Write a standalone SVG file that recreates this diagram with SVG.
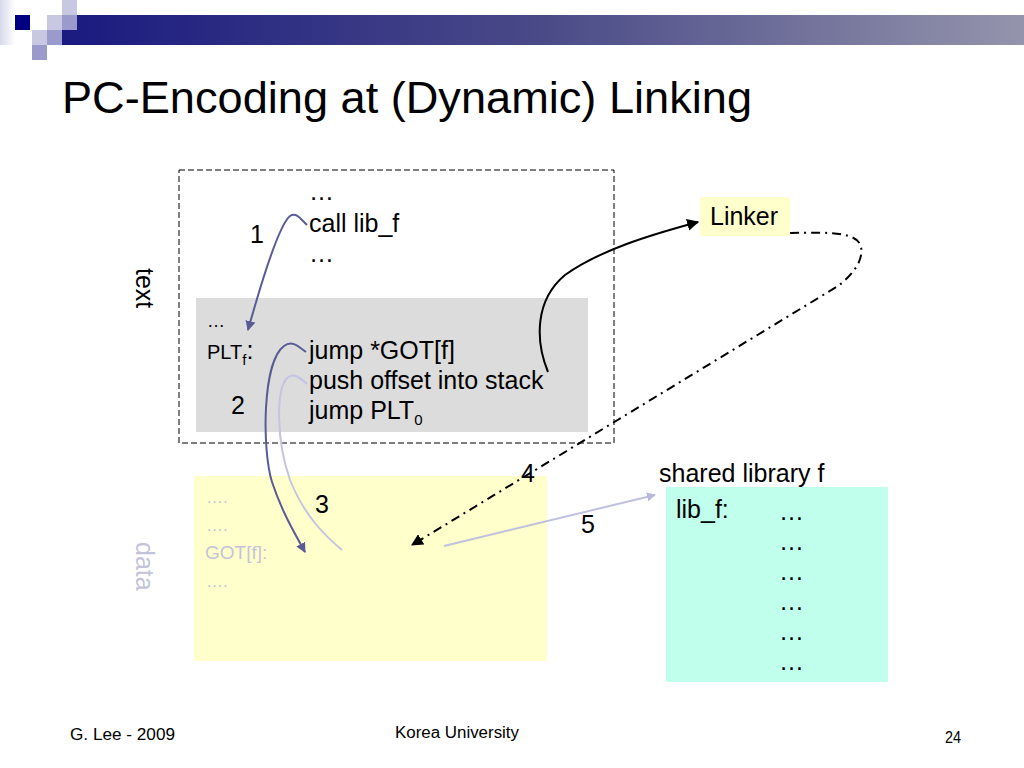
<svg xmlns="http://www.w3.org/2000/svg" width="1024" height="768" viewBox="0 0 1024 768">
<defs>
<linearGradient id="bar" x1="0" y1="0" x2="1" y2="0">
<stop offset="0" stop-color="#1a1a80"/>
<stop offset="0.5" stop-color="#4a4a88"/>
<stop offset="1" stop-color="#9494ac"/>
</linearGradient>
<linearGradient id="fade" x1="0" y1="0" x2="1" y2="0">
<stop offset="0" stop-color="#d8d8ec"/>
<stop offset="1" stop-color="#ffffff"/>
</linearGradient>
<marker id="ahDark" viewBox="0 0 10 10" refX="9" refY="5" markerWidth="10" markerHeight="10" markerUnits="userSpaceOnUse" orient="auto">
<path d="M0,0 L10,5 L0,10 z" fill="#5a5a96"/>
</marker>
<marker id="ahBlack" viewBox="0 0 10 10" refX="9" refY="5" markerWidth="12" markerHeight="12" markerUnits="userSpaceOnUse" orient="auto">
<path d="M0,0 L10,5 L0,10 z" fill="#000"/>
</marker>
<marker id="ahLight" viewBox="0 0 10 10" refX="9" refY="5" markerWidth="9" markerHeight="9" markerUnits="userSpaceOnUse" orient="auto">
<path d="M0,0 L10,5 L0,10 z" fill="#b8b8dc"/>
</marker>
</defs>
<style>
text{font-family:"Liberation Sans",Arial,sans-serif;fill:#000}
.t{font-size:25px}
.d{fill:#c4c4d8}
.c{fill:none;stroke-width:2}
</style>
<rect width="1024" height="768" fill="#fff"/>
<g id="header">
<rect x="0" y="0" width="15" height="45" fill="url(#fade)"/>
<rect x="62" y="15" width="962" height="30" fill="url(#bar)"/>
<rect x="15" y="15" width="15" height="15" fill="#000080"/>
<rect x="47" y="15" width="15" height="15" fill="#c8c8e2"/>
<rect x="62" y="0" width="15" height="15" fill="#c8c8e2"/>
<rect x="62" y="15" width="15" height="15" fill="#9a9acc"/>
<rect x="32" y="30" width="15" height="15" fill="#c8c8e2"/>
<rect x="47" y="30" width="15" height="15" fill="#9a9acc"/>
<rect x="32" y="45" width="15" height="15" fill="#9a9acc"/>
</g>
<text x="62" y="113" font-size="45" textLength="690" lengthAdjust="spacingAndGlyphs">PC-Encoding at (Dynamic) Linking</text>
<g id="text-segment">
<rect x="179" y="170" width="435" height="273" fill="none" stroke="#000" stroke-width="1" stroke-dasharray="6,3"/>
<text class="t" x="136" y="268" transform="rotate(90 136 268)">text</text>
<text class="t" x="309" y="200">…</text>
<text class="t" x="309" y="232">call lib_f</text>
<text class="t" x="309" y="262">…</text>
<text class="t" x="250" y="243">1</text>
</g>
<g id="plt">
<rect x="196" y="298" width="392" height="134" fill="#dcdcdc"/>
<text x="207" y="327" font-size="18">…</text>
<text x="207" y="359" font-size="20">PLT<tspan font-size="15" dy="6">f</tspan><tspan font-size="25" dy="-6">:</tspan></text>
<text class="t" x="309" y="359">jump *GOT[f]</text>
<text class="t" x="309" y="389">push offset into stack</text>
<text class="t" x="309" y="419">jump PLT<tspan font-size="15" dy="6">0</tspan></text>
<text class="t" x="231" y="414">2</text>
</g>
<g id="data-segment">
<rect x="194" y="476" width="353" height="185" fill="#ffffcc"/>
<text class="d" x="206" y="503" font-size="17">….</text>
<text class="d" x="206" y="531" font-size="17">….</text>
<text class="d" x="205" y="559" font-size="19">GOT[f]:</text>
<text class="d" x="206" y="587" font-size="17">….</text>
<text class="t d" x="136" y="542" transform="rotate(90 136 542)">data</text>
<text class="t" x="315" y="513">3</text>
</g>
<g id="linker">
<rect x="700" y="197" width="90" height="39" fill="#ffffcc"/>
<text class="t" x="710" y="225">Linker</text>
</g>
<g id="shared-library">
<text class="t" x="659" y="482">shared library f</text>
<rect x="666" y="487" width="222" height="195" fill="#bfffec"/>
<text class="t" x="676" y="518">lib_f:</text>
<text class="t" x="779" y="520">…</text>
<text class="t" x="779" y="550">…</text>
<text class="t" x="779" y="580">…</text>
<text class="t" x="779" y="610">…</text>
<text class="t" x="779" y="640">…</text>
<text class="t" x="779" y="670">…</text>
</g>
<g id="connectors">
<path class="c" d="M307,225 C300,218 296,212 290,216 C280,224 262,280 248,330" stroke="#5a5a96" marker-end="url(#ahDark)"/>
<path class="c" d="M306,352 C298,346 292,340 284,346 C262,362 262,450 272,482 C282,512 294,532 305,552" stroke="#5a5a96" marker-end="url(#ahDark)"/>
<path class="c" d="M307,384 C300,378 294,372 287,378 C276,390 276,440 290,480 C304,515 324,535 342,550" stroke="#c4c4e2"/>
<path class="c" d="M548,372 C535,340 535,300 565,275 C600,250 650,235 698,222" stroke="#000" marker-end="url(#ahBlack)"/>
<path class="c" d="M790,233 C830,232 858,232 861,247 C864,262 850,277 838,286 L412,545" stroke="#000" stroke-dasharray="9,5,2,5" marker-end="url(#ahBlack)"/>
<path class="c" d="M444,546 L655,495" stroke="#c0c0e0" marker-end="url(#ahLight)"/>
<text class="t" x="521" y="482">4</text>
<text class="t" x="581" y="533">5</text>
</g>
<g id="footer">
<text x="70" y="740" font-size="16" textLength="105" lengthAdjust="spacingAndGlyphs">G. Lee - 2009</text>
<text x="395" y="738" font-size="16" textLength="124" lengthAdjust="spacingAndGlyphs">Korea University</text>
<text x="945" y="743" font-size="16" textLength="16" lengthAdjust="spacingAndGlyphs">24</text>
</g>
</svg>
